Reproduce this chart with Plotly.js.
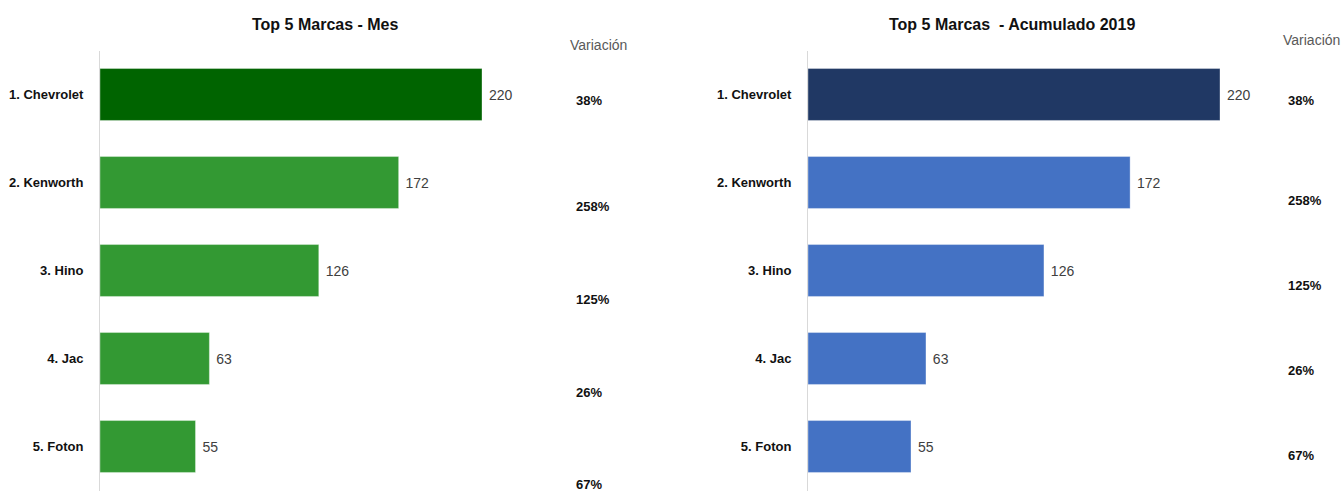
<!DOCTYPE html>
<html>
<head>
<meta charset="utf-8">
<script src="https://cdn.plot.ly/plotly-3.0.1.min.js"></script>
<style>html,body{margin:0;padding:0;background:#fff;}#chart{width:1343px;height:491px;}</style>
</head>
<body>
<div id="chart"></div>
<script>
// ---- data ----
const brands = ["1. Chevrolet", "2. Kenworth", "3. Hino", "4. Jac", "5. Foton"];
const mesValues = [220, 172, 126, 63, 55];
const acumValues = [220, 172, 126, 63, 55];
const mesVariation = ["38%", "258%", "125%", "26%", "67%"];
const acumVariation = ["38%", "258%", "125%", "26%", "67%"];
const mesTitle = "Top 5 Marcas - Mes";
const acumTitle = "Top 5 Marcas  - Acumulado 2019";
const variationHeader = "Variación";

// ---- styling ----
const W = 1343, H = 491;
const FONT = "Liberation Sans, Arial, sans-serif";
const mesColors = brands.map((b, i) => i === 0 ? "#006400" : "#339933");
const acumColors = brands.map((b, i) => i === 0 ? "#203864" : "#4472C4");

function barTrace(vals, colors, xa, ya) {
  return {
    type: "bar", orientation: "h",
    x: vals, y: brands,
    xaxis: xa, yaxis: ya,
    marker: {color: colors, line: {color: "rgba(255,255,255,0.35)", width: 1}},
    text: vals.map(v => " " + v),
    textposition: "outside",
    cliponaxis: false,
    textfont: {family: FONT, size: 14, color: "#404040"},
    hoverinfo: "x+y",
    showlegend: false
  };
}

const plotTop = 50.5, plotBot = 490.5;
const yDomain = [1 - plotBot / H, 1 - plotTop / H];

const yAxisCommon = {
  type: "category",
  autorange: "reversed",
  domain: yDomain,
  showline: true, linecolor: "#d9d9d9", linewidth: 1,
  showgrid: false, zeroline: false,
  ticks: "", ticklabelstandoff: 13,
  tickfont: {family: FONT, size: 13, color: "#111111", weight: "bold"},
  fixedrange: true
};
const xAxisCommon = {
  range: [0, 253], showgrid: false, zeroline: false, showline: false,
  showticklabels: false, ticks: "", fixedrange: true
};

// pixel anchors for the side "Variación" columns
const mesVarX = 574, mesVarY = [100, 207, 299, 392, 484];
const acumVarX = 1286, acumVarY = [100, 200, 285, 370, 455];

const annotations = [];
function addText(text, px, py, opts) {
  annotations.push(Object.assign({
    text: text, x: px / W, y: 1 - py / H, xref: "paper", yref: "paper",
    showarrow: false, xanchor: "left", yanchor: "middle",
    font: {family: FONT, size: 13, color: "#111111", weight: "bold"}
  }, opts || {}));
}
addText(mesTitle, 325, 24, {xanchor: "center", font: {family: FONT, size: 16, color: "#111111", weight: "bold"}});
addText(acumTitle, 1012, 24, {xanchor: "center", font: {family: FONT, size: 16, color: "#111111", weight: "bold"}});
addText(variationHeader, 568, 45, {font: {family: FONT, size: 14, color: "#595959"}});
addText(variationHeader, 1281, 40, {font: {family: FONT, size: 14, color: "#595959"}});
mesVariation.forEach((t, i) => addText(t, mesVarX, mesVarY[i]));
acumVariation.forEach((t, i) => addText(t, acumVarX, acumVarY[i]));

const layout = {
  width: W, height: H,
  margin: {l: 0, r: 0, t: 0, b: 0},
  paper_bgcolor: "#ffffff", plot_bgcolor: "#ffffff",
  bargap: 0.41,
  font: {family: FONT},
  xaxis: Object.assign({}, xAxisCommon, {domain: [100 / W, (100 + 253 * 382 / 220) / W], anchor: "y"}),
  yaxis: Object.assign({}, yAxisCommon, {anchor: "x"}),
  xaxis2: Object.assign({}, xAxisCommon, {domain: [808 / W, (808 + 253 * 412 / 220) / W], anchor: "y2"}),
  yaxis2: Object.assign({}, yAxisCommon, {anchor: "x2"}),
  annotations: annotations
};

Plotly.newPlot("chart", [
  barTrace(mesValues, mesColors, "x", "y"),
  barTrace(acumValues, acumColors, "x2", "y2")
], layout, {displayModeBar: false, staticPlot: true});
</script>
</body>
</html>
